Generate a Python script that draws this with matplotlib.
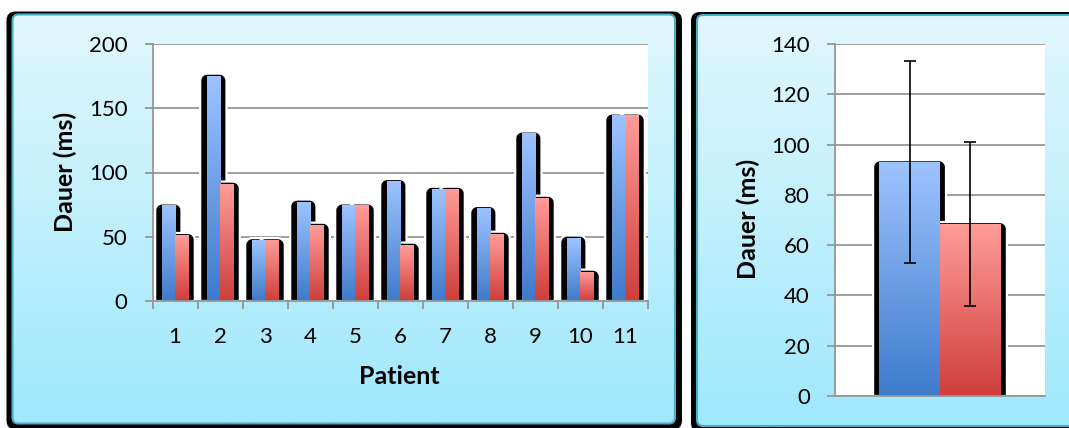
import numpy as np
import matplotlib
matplotlib.use('Agg')
import matplotlib.pyplot as plt
from matplotlib.patches import FancyBboxPatch, Polygon
from matplotlib.colors import to_rgb

W, H = 1069, 428

# Dauer je Patient, zwei Messungen
patienten = ['1', '2', '3', '4', '5', '6', '7', '8', '9', '10', '11']
dauer_blau = [74, 175, 47, 77, 74, 93, 87, 72, 130, 49, 144]
dauer_rot = [51, 91, 47, 59, 74, 43.5, 87, 52, 80, 22.5, 144]

# Mittelwert und Standardabweichung
mittel = [93, 68.4]
stdabw = [40.3, 32.6]

yticks_links = [0, 50, 100, 150, 200]
yticks_rechts = [0, 20, 40, 60, 80, 100, 120, 140]

BLAU = ('#9DC3FF', '#3E7BCB')
ROT = ('#FF9C99', '#CE3E3A')
GRID = '#969696'
FONT = 'Lato'
FS = 16
FS_TITEL = 18


def verlauf(oben, unten, n=128):
    a = np.array(to_rgb(oben))
    b = np.array(to_rgb(unten))
    t = np.linspace(0, 1, n)[:, None]
    return (a * (1 - t) + b * t)[:, None, :]


def add_axes_px(fig, x0, y0, x1, y1):
    return fig.add_axes([x0 / W, (H - y1) / H, (x1 - x0) / W, (y1 - y0) / H])


def panel(bg, x0, y0, x1, y1):
    bg.add_patch(FancyBboxPatch((x0 - 6, y0 - 3), (x1 - x0) + 13, (y1 - y0) + 9,
                                boxstyle='round,pad=0,rounding_size=9',
                                fc='black', ec='none', zorder=1))
    rahmen = FancyBboxPatch((x0, y0), x1 - x0, y1 - y0,
                            boxstyle='round,pad=0,rounding_size=6',
                            fc='none', ec='#4BACC6', lw=1.5, zorder=3)
    bg.add_patch(rahmen)
    img = bg.imshow(verlauf('#E1F7FD', '#9FE8FC'), extent=(x0, x1, y1, y0),
                    origin='upper', aspect='auto', interpolation='bilinear', zorder=2)
    img.set_clip_path(rahmen)


def schatten(ax, x0, x1, top, px_x, px_y, ext=6.5, up=2.5, r=7):
    left = x0 - ext * px_x
    right = x1 + ext * px_x
    t = top + up * px_y
    rx, ry = r * px_x, r * px_y
    pts = [(left, 0)]
    for a in np.radians(np.linspace(180, 90, 12)):
        pts.append((left + rx + rx * np.cos(a), t - ry + ry * np.sin(a)))
    for a in np.radians(np.linspace(90, 0, 12)):
        pts.append((right - rx + rx * np.cos(a), t - ry + ry * np.sin(a)))
    pts.append((right, 0))
    ax.add_patch(Polygon(pts, closed=True, fc='black', ec='white', lw=1.6, zorder=2))


def balken(ax, x0, x1, h, farben):
    ax.imshow(verlauf(*farben), extent=(x0, x1, 0, h), origin='upper',
              aspect='auto', interpolation='bilinear', zorder=2.2)


def achsen_stil(ax, ylim, yticks):
    ax.set_facecolor('white')
    ax.set_ylim(*ylim)
    ax.set_yticks(yticks)
    ax.set_axisbelow(True)
    ax.yaxis.grid(True, color=GRID, lw=1.3)
    for s in ['top', 'right']:
        ax.spines[s].set_visible(False)
    for s in ['left', 'bottom']:
        ax.spines[s].set_color(GRID)
        ax.spines[s].set_linewidth(1.3)
    ax.tick_params(axis='y', direction='out', length=6, width=1.3, color=GRID,
                   pad=12, labelsize=FS)
    for lab in ax.get_yticklabels():
        lab.set_fontfamily(FONT)


fig = plt.figure(figsize=(W / 100, H / 100), dpi=100)

bg = fig.add_axes([0, 0, 1, 1], zorder=-1)
bg.axis('off')
panel(bg, 12.5, 14.5, 675, 423.5)
panel(bg, 697, 15, 1100, 426)
bg.set_xlim(0, W)
bg.set_ylim(H, 0)

# linkes Diagramm: alle Patienten
ax1 = add_axes_px(fig, 152.5, 44, 647.5, 301)
achsen_stil(ax1, (0, 200), yticks_links)
px_x = 11 / 495
px_y = 200 / 257
bw = 0.296
for i in range(len(patienten)):
    x = i + 1
    schatten(ax1, x - bw, x, dauer_blau[i], px_x, px_y)
    schatten(ax1, x, x + bw, dauer_rot[i], px_x, px_y)
for i in range(len(patienten)):
    x = i + 1
    balken(ax1, x - bw, x, dauer_blau[i], BLAU)
    balken(ax1, x, x + bw, dauer_rot[i], ROT)
ax1.set_xlim(0.5, len(patienten) + 0.5)
ax1.set_xticks(np.arange(0.5, len(patienten) + 1))
ax1.set_xticklabels([])
ax1.set_xticks(np.arange(1, len(patienten) + 1), minor=True)
ax1.set_xticklabels(patienten, minor=True, fontsize=FS, fontfamily=FONT)
ax1.tick_params(axis='x', which='major', direction='out', length=6, width=1.3, color=GRID)
ax1.tick_params(axis='x', which='minor', length=0, pad=19)

# rechtes Diagramm: Mittelwerte mit Standardabweichung
ax2 = add_axes_px(fig, 835, 44, 1045, 396)
achsen_stil(ax2, (0, 140), yticks_rechts)
px_x2 = 1 / 210
px_y2 = 140 / 352
bw2 = 0.29
schatten(ax2, -bw2, 0, mittel[0], px_x2, px_y2, ext=6, up=2)
schatten(ax2, 0, bw2, mittel[1], px_x2, px_y2, ext=6, up=2)
balken(ax2, -bw2, 0, mittel[0], BLAU)
balken(ax2, 0, bw2, mittel[1], ROT)
ax2.errorbar([-bw2 / 2, bw2 / 2], mittel, yerr=stdabw, fmt='none', ecolor='black',
             elinewidth=1.2, capsize=4, capthick=1.2, zorder=4)
ax2.set_xlim(-0.5, 0.5)
ax2.set_xticks([])

# Achsentitel
bg.text(65, 172, 'Dauer (ms)', rotation=90, ha='center', va='center',
        fontsize=FS_TITEL, fontweight='bold', fontfamily=FONT)
bg.text(399, 376, 'Patient', ha='center', va='center',
        fontsize=FS_TITEL, fontweight='bold', fontfamily=FONT)
bg.text(748, 219, 'Dauer (ms)', rotation=90, ha='center', va='center',
        fontsize=FS_TITEL, fontweight='bold', fontfamily=FONT)

fig.savefig('out.png', dpi=100)
